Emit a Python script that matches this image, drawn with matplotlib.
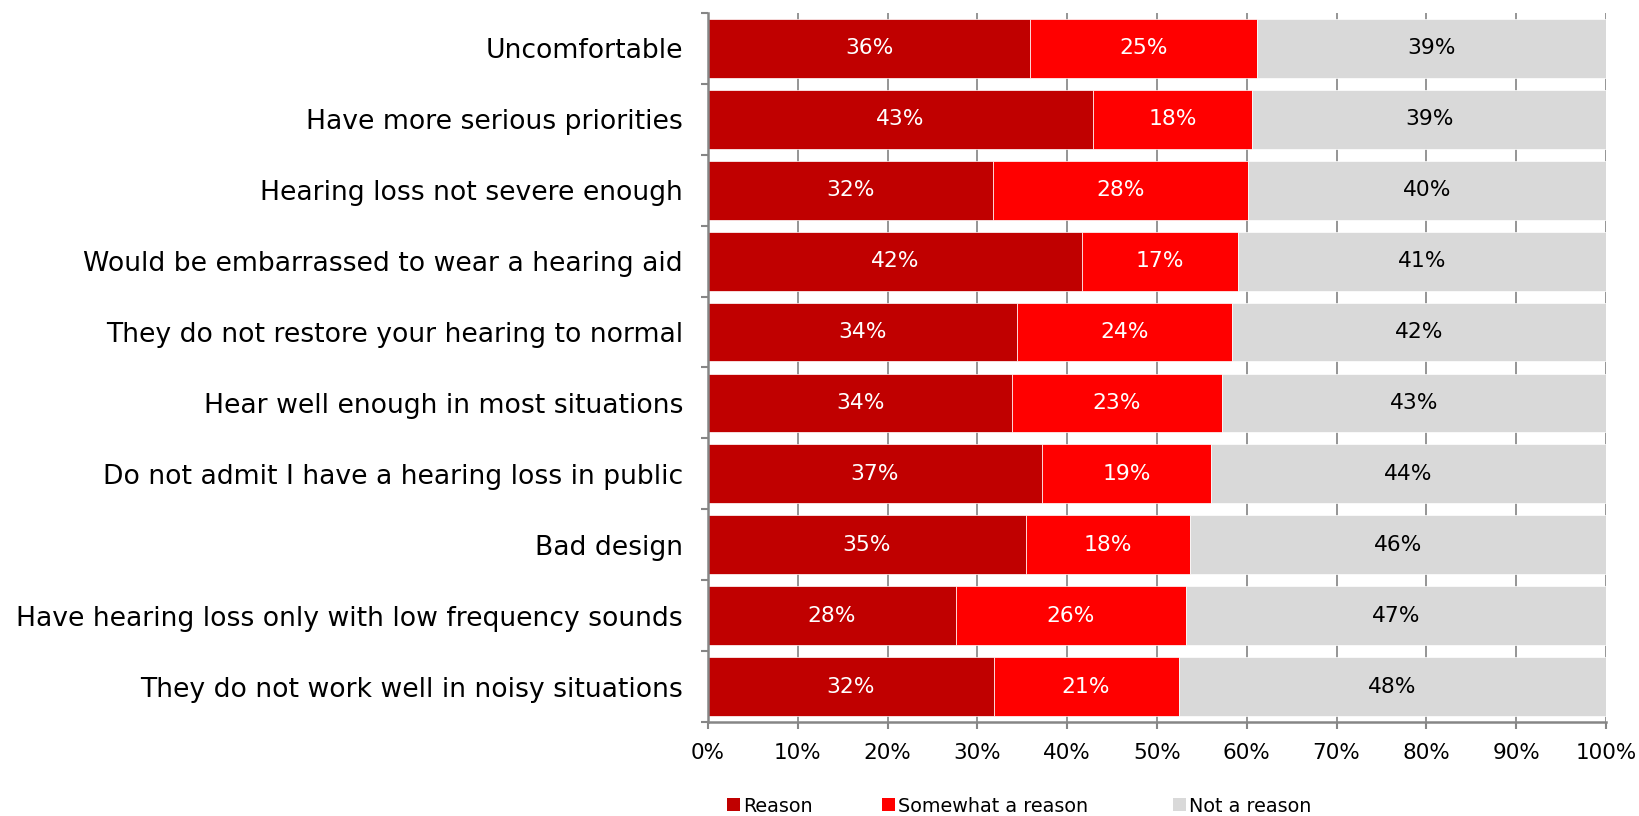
import matplotlib
matplotlib.use('Agg')
import matplotlib.pyplot as plt
import numpy as np
from matplotlib.patches import Patch

categories = [
    'Uncomfortable',
    'Have more serious priorities',
    'Hearing loss not severe enough',
    'Would be embarrassed to wear a hearing aid',
    'They do not restore your hearing to normal',
    'Hear well enough in most situations',
    'Do not admit I have a hearing loss in public',
    'Bad design',
    'Have hearing loss only with low frequency sounds',
    'They do not work well in noisy situations',
]
reason = [35.9, 42.9, 31.7, 41.6, 34.4, 33.9, 37.2, 35.4, 27.6, 31.8]
somewhat = [25.2, 17.7, 28.4, 17.4, 24.0, 23.3, 18.8, 18.3, 25.6, 20.6]
not_reason = [38.9, 39.4, 39.9, 41.0, 41.6, 42.8, 44.0, 46.3, 46.8, 47.6]
series_names = ['Reason', 'Somewhat a reason', 'Not a reason']
x_ticks = [0, 10, 20, 30, 40, 50, 60, 70, 80, 90, 100]

colors = ['#C00000', '#FF0000', '#D9D9D9']
text_colors = ['white', 'white', 'black']
axis_gray = '#868686'

plt.rcParams['font.family'] = ['DejaVu Sans']

fig = plt.figure(figsize=(16.4, 8.16), dpi=100)
ax = fig.add_axes([708 / 1640, 94 / 816, 898 / 1640, 709 / 816])

n = len(categories)
y = np.arange(n)
left = np.zeros(n)
for vals, name, c, tc in zip([reason, somewhat, not_reason], series_names, colors, text_colors):
    vals = np.array(vals)
    bars = ax.barh(y, vals, left=left, height=0.83, color=c, edgecolor='white',
                   linewidth=0.5, label=name, zorder=2)
    ax.bar_label(bars, labels=[f'{v:.0f}%' for v in vals], label_type='center',
                 color=tc, fontsize=15.7)
    left += vals

ax.set_xlim(0, 100)
ax.set_ylim(n - 0.5, -0.5)
ax.set_xticks(x_ticks)
ax.set_xticklabels([f'{t}%' for t in x_ticks], fontsize=15.5)
ax.grid(axis='x', color='#8C8C8C', linewidth=1.3, zorder=0)
ax.set_axisbelow(True)

for s in ['top', 'right']:
    ax.spines[s].set_visible(False)
for s in ['left', 'bottom']:
    ax.spines[s].set_color(axis_gray)
    ax.spines[s].set_linewidth(1.8)

ax.set_yticks(y)
ax.set_yticklabels(categories, fontsize=19.2)
ax.tick_params(axis='y', which='major', length=0, pad=18)
ax.set_yticks(np.arange(-0.5, n, 1), minor=True)
ax.tick_params(axis='y', which='minor', length=5, width=1.5, color=axis_gray)
ax.tick_params(axis='x', which='major', length=5, width=1.5, color=axis_gray, pad=10)

legend_x = [727, 882, 1173]
for name, c, xp in zip(series_names, colors, legend_x):
    fig.legend(handles=[Patch(facecolor=c, edgecolor='none')], labels=[name],
               loc='center left', bbox_to_anchor=(xp / 1640, 1 - 806 / 816),
               frameon=False, fontsize=13.8, handlelength=0.68, handleheight=0.68,
               handletextpad=0.15, borderpad=0, borderaxespad=0)

fig.savefig('out.png', dpi=100)
